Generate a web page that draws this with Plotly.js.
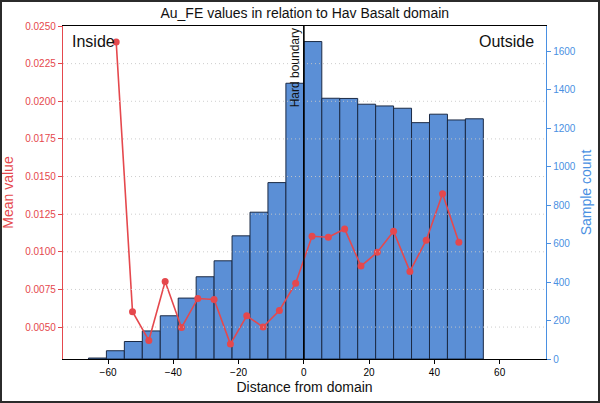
<!DOCTYPE html>
<html>
<head>
<meta charset="utf-8">
<script src="https://cdn.plot.ly/plotly-3.0.1.min.js"></script>
<style>
  html, body { margin:0; padding:0; background:#fff; }
  #wrap { position:relative; width:600px; height:403px; }
  #chart { width:600px; height:403px; }
  #frame { position:absolute; left:0; top:0; width:600px; height:403px; box-sizing:border-box;
           border:2px solid #2b2b2b; pointer-events:none; }
</style>
</head>
<body>
<div id="wrap"><div id="chart"></div><div id="frame"></div></div>
<script>
// histogram bins (distance from domain) and sample counts
const binEdges = [-66, -60.5, -55, -49.5, -44, -38.5, -33, -27.5, -22, -16.5, -11, -5.5,
                  0, 5.5, 11, 16.5, 22, 27.5, 33, 38.5, 44, 49.5, 55];
const counts = [5, 43, 91, 146, 225, 317, 428, 511, 641, 764, 918, 1435,
                1652, 1357, 1356, 1326, 1317, 1305, 1230, 1274, 1244, 1250];

// mean Au_FE per distance step
const meanX = [-57.5, -52.5, -47.5, -42.5, -37.5, -32.5, -27.5, -22.5, -17.5, -12.5, -7.5, -2.5,
               2.5, 7.5, 12.5, 17.5, 22.5, 27.5, 32.5, 37.5, 42.5, 47.5];
const meanVal = [0.02394, 0.00602, 0.00411, 0.00803, 0.00497, 0.0069, 0.00683, 0.00387, 0.00575, 0.0050, 0.0061, 0.00792,
                 0.01103, 0.01097, 0.01152, 0.00905, 0.00997, 0.01136, 0.0087, 0.01077, 0.01386, 0.01064];

const leftTicks = [0.005, 0.0075, 0.01, 0.0125, 0.015, 0.0175, 0.02, 0.0225, 0.025];
const rightTicks = [0, 200, 400, 600, 800, 1000, 1200, 1400, 1600];
const xTicks = [-60, -40, -20, 0, 20, 40, 60];

const RED = '#E5484D', BLUE = '#4A90E2';
const centers = counts.map((c, i) => (binEdges[i] + binEdges[i + 1]) / 2);
const widths = counts.map((c, i) => binEdges[i + 1] - binEdges[i]);

const traces = [
  { type:'bar', x:centers, y:counts, width:widths, xaxis:'x', yaxis:'y',
    marker:{color:'#5B8FD6', line:{color:'#1B2A45', width:1}}, showlegend:false, hoverinfo:'x+y' },
  { type:'scatter', mode:'lines+markers', x:meanX, y:meanVal, xaxis:'x', yaxis:'y2',
    line:{color:RED, width:1.6}, marker:{color:RED, size:7}, showlegend:false }
];

// dotted grid for the mean axis, drawn over the bars like the twin-axis original
const gridShapes = leftTicks.slice(0, -1).map(v => ({
  type:'line', xref:'paper', yref:'y2', x0:0, x1:1, y0:v, y1:v, layer:'above',
  line:{color:'rgba(200,200,200,0.9)', width:1, dash:'1px,3px'}
}));

const layout = {
  width:600, height:403,
  margin:{l:63, r:54, t:26, b:44},
  paper_bgcolor:'#fff', plot_bgcolor:'#fff',
  font:{family:'Liberation Sans, Arial, sans-serif', size:10, color:'#000'},
  title:{text:'Au_FE values in relation to Hav Basalt domain', font:{size:14, color:'#111'},
         x:0.508, xanchor:'center', y:0.968, yanchor:'middle', yref:'container'},
  bargap:0,
  xaxis:{range:[-73.8, 74.2], tickvals:xTicks, ticks:'outside', ticklen:4, tickcolor:'#000',
         showline:true, linecolor:'#000', linewidth:1.2, mirror:true, showgrid:false, zeroline:false,
         tickfont:{size:10, color:'#000'},
         title:{text:'Distance from domain', font:{size:14, color:'#111'}, standoff:5}},
  yaxis:{range:[0, 1733], side:'right', tickvals:rightTicks, ticks:'outside', ticklen:4, tickcolor:BLUE,
         showline:true, linecolor:BLUE, linewidth:1.2, showgrid:false, zeroline:false,
         tickfont:{size:10, color:BLUE},
         title:{text:'Sample count', font:{size:14, color:BLUE}, standoff:6}},
  yaxis2:{range:[0.00288, 0.025], overlaying:'y', side:'left', tickvals:leftTicks, tickformat:'.4f',
          ticks:'outside', ticklen:4, tickcolor:RED, showline:true, linecolor:RED, linewidth:1.2,
          showgrid:false, zeroline:false,
          tickfont:{size:10, color:RED},
          title:{text:'Mean value', font:{size:14, color:RED}, standoff:8}},
  shapes:gridShapes.concat([{type:'line', xref:'x', yref:'paper', x0:0, x1:0, y0:0, y1:1, layer:'above',
           line:{color:'#000', width:1.6}}]),
  annotations:[
    {text:'Inside', xref:'paper', yref:'paper', x:0.015, y:0.985, xanchor:'left', yanchor:'top',
     showarrow:false, font:{size:16, color:'#111'}},
    {text:'Outside', xref:'paper', yref:'paper', x:0.98, y:0.985, xanchor:'right', yanchor:'top',
     showarrow:false, font:{size:16, color:'#111'}},
    {text:'Hard boundary', xref:'x', yref:'paper', x:0, y:1, xanchor:'right', yanchor:'top',
     textangle:-90, showarrow:false, font:{size:12, color:'#111'}}
  ]
};

Plotly.newPlot('chart', traces, layout, {displayModeBar:false, staticPlot:true});
</script>
</body>
</html>
